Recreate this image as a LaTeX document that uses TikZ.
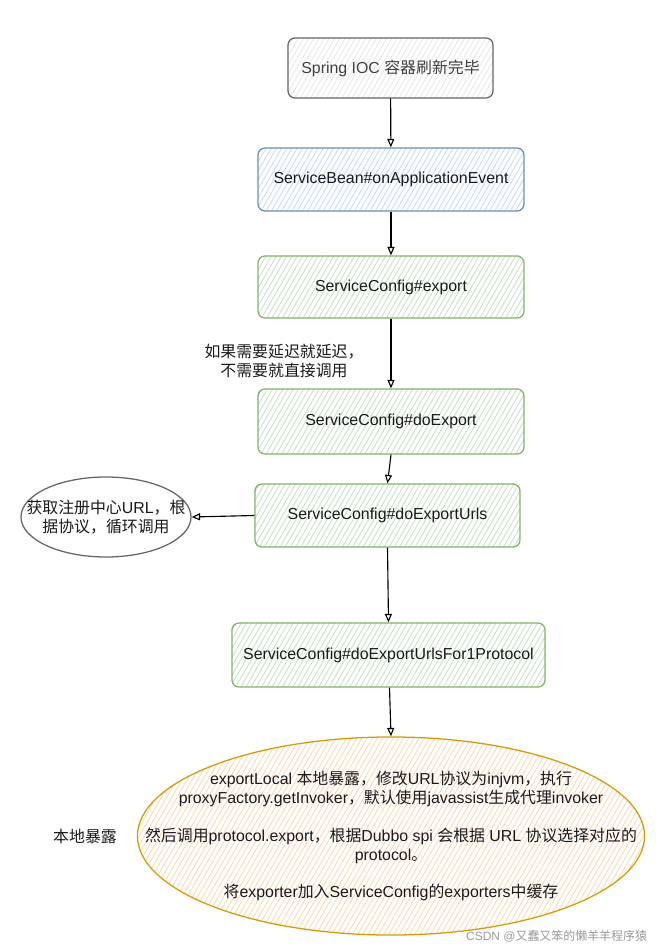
\documentclass[tikz,border=0pt]{standalone}
\usepackage{fontspec}
\setmainfont{Liberation Sans}
\newfontfamily\cjk{Noto Sans CJK SC}
\usetikzlibrary{shapes.geometric}
\usetikzlibrary{arrows.meta}
\usetikzlibrary{patterns.meta}
\newcommand{\zh}[1]{{\cjk #1}}
\definecolor{grayline}{HTML}{666666}
\definecolor{grayfill}{HTML}{E6E6E6}
\definecolor{blueline}{HTML}{6C8EBF}
\definecolor{bluefill}{HTML}{C5D8F5}
\definecolor{greenline}{HTML}{82B366}
\definecolor{greenfill}{HTML}{C4DFC2}
\definecolor{orangeline}{HTML}{D79B00}
\definecolor{orangefill}{HTML}{FAD7B0}
\definecolor{inktext}{HTML}{1A1A1A}
\tikzset{
  hatch/.style={pattern={Lines[angle=60,distance=3.2pt,line width=0.6pt]}, pattern color=#1},
  stepbox/.style={rectangle, rounded corners=5pt, line width=0.9pt, inner sep=0pt,
    font=\fontsize{11.3}{13.5}\selectfont, text=inktext},
  bubble/.style={ellipse, line width=0.9pt, inner sep=0pt},
  flow/.style={line width=0.8pt, -{Triangle[open,length=6pt,width=5pt]}},
  note/.style={font=\fontsize{11.3}{13.5}\selectfont, text=inktext, align=center}
}
\begin{document}
\begin{tikzpicture}[x=0.025cm,y=-0.025cm]
\useasboundingbox (0,0) rectangle (663,951);

% main chain
\node[stepbox,draw=grayline,hatch=grayfill,text=black!75,minimum width=5.125cm,minimum height=1.5cm] (ioc) at (390.5,68) {Spring IOC \zh{容器刷新完毕}};
\node[stepbox,draw=blueline,hatch=bluefill,minimum width=6.65cm,minimum height=1.575cm] (event) at (391,179.5) {ServiceBean\#onApplicationEvent};
\node[stepbox,draw=greenline,hatch=greenfill,minimum width=6.65cm,minimum height=1.55cm] (export) at (391,287) {ServiceConfig\#export};
\node[stepbox,draw=greenline,hatch=greenfill,minimum width=6.65cm,minimum height=1.625cm] (doexport) at (391,421.5) {ServiceConfig\#doExport};
\node[stepbox,draw=greenline,hatch=greenfill,minimum width=6.625cm,minimum height=1.575cm] (urls) at (387.5,515.5) {ServiceConfig\#doExportUrls};
\node[stepbox,draw=greenline,hatch=greenfill,minimum width=7.825cm,minimum height=1.6cm] (proto) at (388.5,655) {ServiceConfig\#doExportUrlsFor1Protocol};

% side ellipses
\node[bubble,draw=grayline,fill=white,minimum width=4.25cm,minimum height=2cm] (registry) at (106,517) {};
\node[note] at (registry.center) {\zh{获取注册中心}URL\zh{，根}\\\zh{据协议，循环调用}};
\node[bubble,draw=orangeline,hatch=orangefill,minimum width=12.675cm,minimum height=4.95cm] (local) at (391,836) {};
\node[note] at (local.center) {exportLocal \zh{本地暴露，修改}URL\zh{协议为}injvm\zh{，执行}\\
proxyFactory.getInvoker\zh{，默认使用}javassist\zh{生成代理}invoker\\[13pt]
\zh{然后调用}protocol.export\zh{，根据}Dubbo spi \zh{会根据} URL \zh{协议选择对应的}\\
protocol\zh{。}\\[13pt]
\zh{将}exporter\zh{加入}ServiceConfig\zh{的}exporters\zh{中缓存}};

% free labels
\node[note] (delay) at (284,361) {\zh{如果需要延迟就延迟，}\\\zh{不需要就直接调用}};
\node[note] (locallabel) at (85,836) {\zh{本地暴露}};
\node[font=\fontsize{8.5}{10}\selectfont,text=black!40,anchor=east] (mark) at (652,936) {CSDN @\zh{又蠢又笨的懒羊羊程序猿}};

% connectors
\draw[flow] (ioc) -- (event);
\draw[flow] (event) -- (export);
\draw[flow] (export) -- (doexport);
\draw[flow] (doexport.south) -- (urls.north);
\draw[flow] (urls.south) -- (proto.north);
\draw[flow] (proto) -- (local.north);
\draw[flow] (urls.west) -- (registry.east);

\end{tikzpicture}
\end{document}
